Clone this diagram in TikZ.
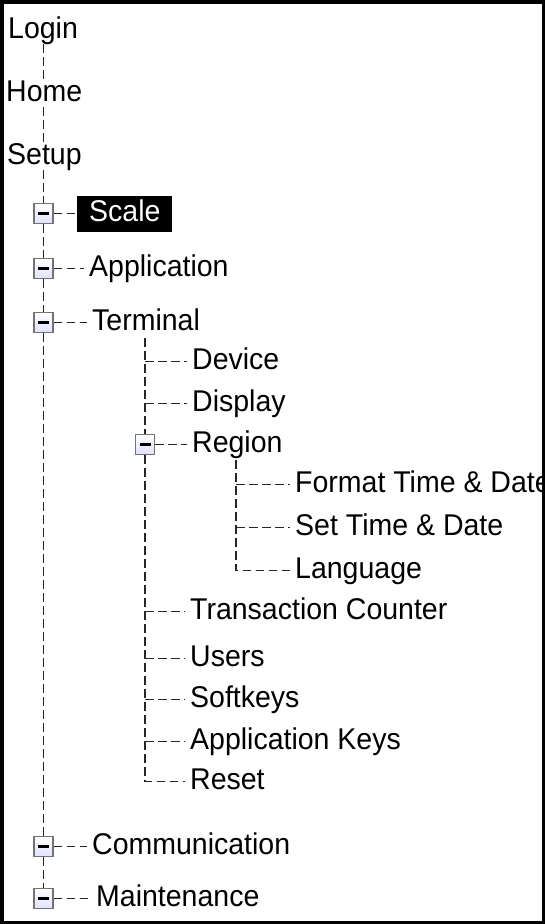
\documentclass[tikz,border=0pt]{standalone}
\usepackage{fontspec}
\setmainfont{Liberation Sans}[FakeStretch=0.95]
\begin{document}
\begin{tikzpicture}[x=1pt,y=-1pt,
  lbl/.style={anchor=base west, inner xsep=5pt, inner ysep=0pt, text height=21pt, text depth=6pt,
    font=\fontsize{30}{36}\selectfont, text=black},
  hilite/.style={lbl, fill=black, text=white, inner xsep=12pt, inner ysep=4.5pt},
  dl/.style={draw=black!85, line width=1.5pt, dash pattern=on 8.5pt off 4.5pt},
  tog/.style={draw=black!55, line width=1.3pt, minimum width=19pt, minimum height=20pt, inner sep=0pt,
    top color=white, bottom color=blue!12!white,
    path picture={\fill[black] ([xshift=-5.5pt,yshift=-1.7pt]path picture bounding box.center) rectangle ++(11pt,3.4pt);}},
]
\useasboundingbox (0,0) rectangle (545,924);

% top level texts
\node[lbl] (login) at (3,38) {Login};
\node[lbl] (home) at (1,101) {Home};
\node[lbl] (setup) at (2,164) {Setup};
\node[hilite] (scale) at (77,221) {Scale};
\node[lbl] (app) at (84,276) {Application};
\node[lbl] (term) at (87,330) {Terminal};
\node[lbl] (comm) at (87,854) {Communication};
\node[lbl] (maint) at (91,906) {Maintenance};

% terminal children
\node[lbl] (dev) at (187,369) {Device};
\node[lbl] (disp) at (187,411) {Display};
\node[lbl] (reg) at (187,452) {Region};
\node[lbl] (trans) at (185,619) {Transaction Counter};
\node[lbl] (users) at (185,666) {Users};
\node[lbl] (soft) at (185,707) {Softkeys};
\node[lbl] (appk) at (185,749) {Application Keys};
\node[lbl] (reset) at (185,789) {Reset};

% region children
\node[lbl] (fmt) at (290,492) {Format Time \& Date};
\node[lbl] (set) at (290,535) {Set Time \& Date};
\node[lbl] (lang) at (290,578) {Language};

% main line and toggles
\coordinate (mx) at (43.5,0);
\node[tog] (t1) at (mx |- scale.west) {};
\node[tog] (t2) at (mx |- app.west) {};
\node[tog] (t3) at (mx |- term.west) {};
\node[tog] (t4) at (mx |- comm.west) {};
\node[tog] (t5) at (mx |- maint.west) {};

\draw[dl] (login.south -| mx) -- (home.north -| mx);
\draw[dl] (home.south -| mx) -- (setup.north -| mx);
\draw[dl] (setup.south -| mx) -- (t1.north);
\draw[dl] (t1.south) -- (t2.north);
\draw[dl] (t2.south) -- (t3.north);
\draw[dl] (t3.south) -- (t4.north);
\draw[dl] (t4.south) -- (t5.north);

\draw[dl] (t1.east) -- (scale.west);
\draw[dl] (t2.east) -- (app.west);
\draw[dl] (t3.east) -- (term.west);
\draw[dl] (t4.east) -- (comm.west);
\draw[dl] (t5.east) -- (maint.west);

% terminal subtree
\coordinate (tk) at (145,338);
\node[tog] (t6) at (tk |- reg.west) {};
\draw[dl] (tk) -- (t6.north);
\draw[dl] (t6.south) -- (tk |- reset.west) -- (reset.west);
\draw[dl] (t6.east) -- (reg.west);
\draw[dl] (tk |- dev.west) -- (dev.west);
\draw[dl] (tk |- disp.west) -- (disp.west);
\draw[dl] (tk |- trans.west) -- (trans.west);
\draw[dl] (tk |- users.west) -- (users.west);
\draw[dl] (tk |- soft.west) -- (soft.west);
\draw[dl] (tk |- appk.west) -- (appk.west);

% region subtree
\coordinate (rk) at (236,460);
\draw[dl] (rk) -- (rk |- lang.west) -- (lang.west);
\draw[dl] (rk |- fmt.west) -- (fmt.west);
\draw[dl] (rk |- set.west) -- (set.west);

% frame
\draw[line width=3.5pt] (1.75,1.75) rectangle (543.25,922.25);
\end{tikzpicture}
\end{document}
